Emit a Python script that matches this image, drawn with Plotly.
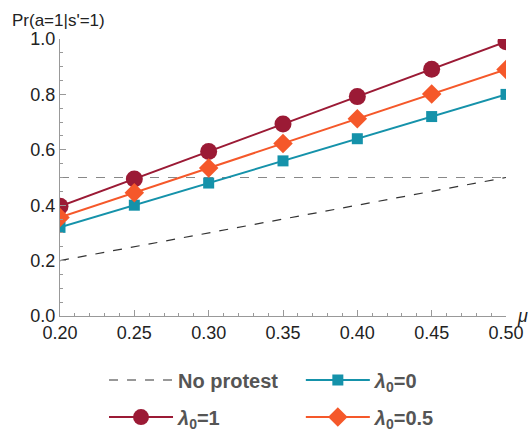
import plotly.graph_objects as go

mu = [0.20, 0.25, 0.30, 0.35, 0.40, 0.45, 0.50]
lam1 = [0.396, 0.495, 0.594, 0.693, 0.792, 0.891, 0.990]
lam05 = [0.356, 0.445, 0.534, 0.623, 0.712, 0.801, 0.890]
lam0 = [0.320, 0.400, 0.480, 0.560, 0.640, 0.720, 0.800]
no_protest = [0.20, 0.25, 0.30, 0.35, 0.40, 0.45, 0.50]
threshold_x = [0.20, 0.50]
threshold_y = [0.5, 0.5]

C1 = "#9b1a35"
C05 = "#f5582a"
C0 = "#1592aa"

fig = go.Figure()
fig.add_trace(go.Scatter(x=threshold_x, y=threshold_y, mode="lines",
                         line=dict(color="#888888", width=1, dash="dash"),
                         showlegend=False, hoverinfo="skip"))
fig.add_trace(go.Scatter(x=mu, y=no_protest, mode="lines", name="<b>No protest</b>",
                         line=dict(color="#333333", width=1.2, dash="dash"),
                         legend="legend"))
fig.add_trace(go.Scatter(x=mu, y=lam0, mode="lines+markers", name="<b><i>λ</i><sub>0</sub>=0</b>",
                         line=dict(color=C0, width=2),
                         marker=dict(symbol="square", size=11, color=C0),
                         legend="legend2"))
fig.add_trace(go.Scatter(x=mu, y=lam1, mode="lines+markers", name="<b><i>λ</i><sub>0</sub>=1</b>",
                         line=dict(color=C1, width=2),
                         marker=dict(symbol="circle", size=17, color=C1),
                         legend="legend3"))
fig.add_trace(go.Scatter(x=mu, y=lam05, mode="lines+markers", name="<b><i>λ</i><sub>0</sub>=0.5</b>",
                         line=dict(color=C05, width=2),
                         marker=dict(symbol="diamond", size=15, color=C05),
                         legend="legend4"))

axis_common = dict(showgrid=False, zeroline=False, showline=True, linecolor="#999999",
                   linewidth=1, ticks="inside", ticklen=6, tickcolor="#999999",
                   tickfont=dict(family="Liberation Sans, Arial", size=18, color="#222222"))

fig.update_xaxes(range=[0.2, 0.5], tickvals=mu, ticktext=["%.2f" % v for v in mu],
                 minor=dict(dtick=0.01, ticks="inside", ticklen=3, tickcolor="#999999"),
                 **axis_common)
fig.update_yaxes(range=[0, 1], dtick=0.2, tickformat=".1f",
                 minor=dict(dtick=0.05, ticks="inside", ticklen=3, tickcolor="#999999"),
                 **axis_common)

legend_font = dict(family="Liberation Sans, Arial", size=20, color="#555555")


def leg(x, y):
    return dict(orientation="h", x=x, y=y, xanchor="left", yanchor="middle",
                font=legend_font, bgcolor="rgba(0,0,0,0)", itemwidth=64)


fig.update_layout(
    width=529, height=430,
    margin=dict(l=60, r=23, t=39, b=114, autoexpand=False),
    plot_bgcolor="white", paper_bgcolor="white",
    legend=leg(0.0987, -0.231),
    legend2=leg(0.54, -0.231),
    legend3=leg(0.0987, -0.365),
    legend4=leg(0.54, -0.365),
    annotations=[
        dict(text="Pr(a=1|s'=1)", xref="paper", yref="paper", x=-50/446, y=1 + 18/277,
             xanchor="left", yanchor="middle", showarrow=False,
             font=dict(family="Liberation Sans, Arial", size=17, color="#222222")),
        dict(text="<i>μ</i>", xref="paper", yref="paper", x=1.036, y=0,
             xanchor="center", yanchor="middle", showarrow=False,
             font=dict(family="Liberation Sans, Arial", size=18, color="#222222")),
    ],
)

fig.write_html("out.html", config={"displayModeBar": False},
               post_script="document.body.style.margin='0';document.body.style.padding='0';")
